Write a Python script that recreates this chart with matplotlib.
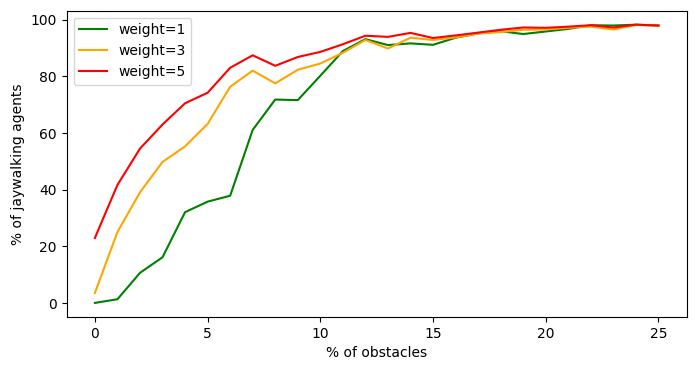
import matplotlib.pyplot as plt

# % of obstacles
obstacles = list(range(26))

# % of jaywalking agents per weight
weight_1 = [0.1, 1.4, 10.7, 16.2, 32.1, 35.8, 37.9, 61.1, 71.8, 71.6, 80.2,
            88.9, 93.1, 91.0, 91.6, 91.1, 93.6, 95.1, 95.9, 94.9, 95.8,
            96.7, 98.0, 97.9, 98.2, 97.9]
weight_3 = [3.6, 25.1, 39.1, 49.8, 55.3, 63.2, 76.3, 82.0, 77.5, 82.3, 84.5,
            88.3, 92.8, 89.8, 93.6, 92.8, 93.7, 95.1, 95.6, 96.4, 96.5,
            97.1, 97.5, 96.5, 98.1, 97.9]
weight_5 = [23.0, 41.7, 54.5, 63.0, 70.5, 74.2, 83.0, 87.4, 83.7, 86.8, 88.6,
            91.3, 94.3, 93.9, 95.3, 93.5, 94.4, 95.4, 96.4, 97.2, 97.1,
            97.5, 98.0, 97.2, 98.2, 97.9]

fig, ax = plt.subplots(figsize=(6.95, 3.71), dpi=100)

ax.plot(obstacles, weight_1, color="green", label="weight=1")
ax.plot(obstacles, weight_3, color="orange", label="weight=3")
ax.plot(obstacles, weight_5, color="red", label="weight=5")

ax.set_xlabel("% of obstacles")
ax.set_ylabel("% of jaywalking agents")
ax.legend(loc="upper left")

fig.subplots_adjust(left=0.096, right=0.988, top=0.971, bottom=0.146)
fig.savefig("out.png")
